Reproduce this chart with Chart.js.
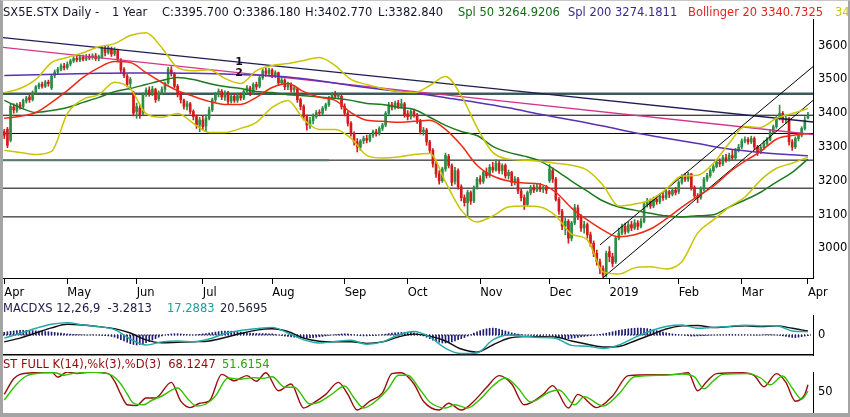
<!DOCTYPE html>
<html>
<head>
<meta charset="utf-8">
<script src="https://cdn.jsdelivr.net/npm/chart.js@4.4.1/dist/chart.umd.min.js"></script>
<style>
  html, body { margin:0; padding:0; background:#fff; }
  #wrap { position:relative; width:850px; height:417px; overflow:hidden; background:#fff; font-family:"DejaVu Sans", sans-serif; font-size:11.5px; }
  #wrap canvas { position:absolute; left:0; }
  .t { position:absolute; white-space:nowrap; line-height:14px; }
  #frame { position:absolute; left:0; top:0; width:850px; height:417px; box-sizing:border-box;
           border-left:3px solid #a4a4a4; border-right:2px solid #a4a4a4; border-bottom:4px solid #a4a4a4; border-top:1px solid #c8c8c8; pointer-events:none; }
</style>
</head>
<body>
<div id="wrap">
  <canvas id="cMain" width="850" height="300" style="top:0px"></canvas>
  <canvas id="cMacd" width="850" height="57" style="top:299px"></canvas>
  <canvas id="cSto" width="850" height="62" style="top:355px"></canvas>

  <div class="t" style="left:3px;top:5px;color:#15152c">SX5E.STX Daily -</div>
  <div class="t" style="left:112px;top:5px;color:#15152c">1 Year</div>
  <div class="t" style="left:162px;top:5px;color:#15152c">C:3395.700</div>
  <div class="t" style="left:233px;top:5px;color:#15152c">O:3386.180</div>
  <div class="t" style="left:305px;top:5px;color:#15152c">H:3402.770</div>
  <div class="t" style="left:378px;top:5px;color:#15152c">L:3382.840</div>
  <div class="t" style="left:458px;top:5px;color:#136b13">Spl 50 3264.9206</div>
  <div class="t" style="left:568px;top:5px;color:#3a2a8c">Spl 200 3274.1811</div>
  <div class="t" style="left:688px;top:5px;color:#e8231c">Bollinger 20 3340.7325</div>
  <div class="t" style="left:835px;top:5px;color:#c9c800">34</div>

  <div class="t" style="left:3px;top:301px;color:#1c1c4a">MACDXS 12,26,9&nbsp; -3.2813</div>
  <div class="t" style="left:167px;top:301px;color:#1a9e9e">17.2883</div>
  <div class="t" style="left:220px;top:301px;color:#1c1c3a">20.5695</div>

  <div class="t" style="left:3px;top:357px;color:#8e0a0a">ST FULL K(14),%k(3),%D(3)&nbsp; 68.1247</div>
  <div class="t" style="left:222px;top:357px;color:#2aa400">51.6154</div>

  <div id="frame"></div>
</div>
<script>
// ---------------- DATA ----------------
const monthIdx = [0,20,42,63,85,108,128,151,173,192,214,234,255];
const monthLbl = ['Apr','May','Jun','Jul','Aug','Sep','Oct','Nov','Dec','2019','Feb','Mar','Apr'];
const priceTicks = [3000,3100,3200,3300,3400,3500,3600];

const opens = [3345,3352,3320,3418,3408,3425,3420,3436,3448,3440,3462,3478,3486,3480,3492,3475,3512,3522,3530,3540,
3535,3546,3555,3562,3558,3566,3560,3568,3565,3570,3562,3566,3590,3580,3592,3576,3585,3558,3530,3510,
3488,3460,3405,3415,3400,3455,3468,3458,3470,3442,3460,3470,3490,3528,3515,3480,3455,3438,3420,3428,
3405,3390,3365,3380,3362,3385,3410,3440,3455,3465,3448,3460,3436,3450,3438,3452,3445,3465,3475,3460,
3485,3480,3505,3525,3518,3528,3512,3520,3490,3498,3478,3485,3470,3472,3440,3420,3390,3365,3378,3390,
3402,3400,3415,3425,3445,3455,3450,3450,3420,3400,3370,3340,3315,3300,3318,3325,3320,3335,3345,3340,
3355,3365,3400,3425,3418,3430,3420,3428,3398,3390,3405,3395,3378,3345,3350,3315,3290,3250,3220,3200,
3235,3272,3245,3198,3230,3182,3150,3135,3165,3140,3180,3205,3198,3225,3215,3240,3232,3252,3230,3245,
3215,3225,3195,3205,3170,3150,3130,3165,3180,3172,3182,3175,3180,3200,3230,3205,3145,3110,3065,3080,
3030,3075,3120,3095,3060,3070,3040,3015,2985,2960,2940,2925,2990,2975,2960,3030,3045,3065,3050,3070,
3060,3075,3065,3080,3130,3140,3125,3145,3138,3155,3150,3168,3160,3172,3168,3195,3210,3205,3220,3180,
3155,3150,3175,3205,3215,3230,3242,3255,3250,3268,3262,3275,3268,3290,3300,3318,3322,3315,3325,3300,
3285,3298,3310,3322,3345,3360,3385,3400,3380,3385,3315,3300,3325,3335,3355,3386.18];
const highs = [3352,3358,3428,3428,3430,3432,3442,3450,3455,3466,3482,3490,3492,3497,3498,3514,3528,3536,3546,3548,
3552,3560,3568,3570,3572,3572,3574,3575,3576,3577,3572,3597,3598,3600,3596,3594,3590,3562,3535,3515,
3506,3465,3430,3425,3460,3475,3478,3480,3474,3466,3478,3492,3536,3538,3520,3485,3462,3442,3436,3432,
3410,3395,3388,3392,3395,3418,3445,3462,3472,3470,3466,3465,3456,3458,3460,3460,3470,3482,3480,3490,
3492,3510,3532,3534,3534,3532,3526,3522,3506,3502,3492,3490,3482,3475,3445,3425,3395,3388,3398,3408,
3410,3420,3430,3450,3462,3465,3460,3455,3428,3405,3375,3345,3325,3322,3332,3335,3340,3350,3352,3360,
3370,3405,3432,3432,3436,3438,3442,3432,3408,3410,3412,3400,3382,3358,3355,3320,3295,3258,3230,3240,
3282,3278,3250,3240,3235,3188,3158,3172,3170,3185,3210,3215,3230,3238,3248,3255,3262,3258,3250,3250,
3232,3228,3212,3210,3175,3158,3170,3186,3188,3190,3192,3185,3186,3248,3238,3210,3150,3115,3090,3085,
3080,3130,3128,3100,3080,3075,3048,3022,2995,2968,2948,2992,3005,2985,3035,3060,3072,3075,3078,3080,
3085,3082,3088,3135,3148,3146,3152,3155,3162,3165,3175,3172,3178,3180,3200,3218,3222,3225,3222,3185,
3162,3182,3210,3222,3236,3248,3262,3265,3275,3278,3282,3290,3296,3308,3324,3330,3328,3332,3330,3305,
3305,3318,3328,3350,3365,3392,3424,3405,3392,3388,3322,3330,3342,3360,3390,3402.77];
const lows = [3325,3298,3315,3400,3402,3412,3415,3430,3432,3436,3458,3472,3474,3476,3480,3470,3505,3515,3525,3528,
3530,3540,3550,3552,3553,3555,3556,3558,3560,3556,3555,3562,3570,3575,3568,3570,3552,3520,3505,3478,
3470,3392,3385,3385,3396,3450,3450,3452,3432,3436,3455,3462,3486,3510,3475,3448,3430,3412,3410,3398,
3380,3355,3345,3350,3348,3380,3405,3432,3448,3440,3438,3428,3430,3432,3432,3438,3440,3458,3452,3455,
3470,3475,3500,3510,3512,3505,3505,3482,3485,3470,3470,3462,3462,3432,3410,3380,3350,3355,3368,3385,
3392,3395,3408,3420,3440,3444,3442,3412,3392,3362,3332,3305,3285,3290,3310,3312,3315,3328,3332,3335,
3348,3360,3395,3410,3412,3414,3415,3388,3380,3382,3388,3370,3338,3335,3305,3282,3240,3210,3190,3195,
3228,3238,3185,3190,3175,3140,3125,3095,3130,3135,3175,3190,3192,3208,3210,3225,3228,3222,3220,3208,
3205,3185,3188,3162,3140,3115,3125,3158,3165,3168,3168,3165,3162,3195,3195,3140,3100,3055,3040,3015,
3022,3070,3085,3050,3045,3030,3005,2975,2950,2925,2908,2915,2960,2945,2955,3025,3040,3042,3045,3052,
3055,3055,3060,3075,3122,3118,3120,3130,3132,3142,3145,3150,3155,3158,3162,3190,3198,3198,3172,3148,
3135,3145,3170,3198,3210,3225,3238,3242,3245,3255,3258,3262,3262,3285,3295,3312,3308,3310,3292,3275,
3280,3292,3305,3318,3340,3355,3380,3372,3370,3305,3290,3295,3318,3330,3350,3382.84];
const closes = [3335,3305,3420,3410,3425,3420,3438,3445,3440,3462,3478,3485,3480,3492,3488,3510,3522,3530,3540,3535,
3545,3555,3562,3558,3566,3560,3568,3564,3570,3562,3568,3592,3580,3594,3575,3588,3560,3528,3512,3485,
3500,3400,3420,3395,3455,3468,3458,3472,3440,3460,3470,3488,3530,3518,3480,3455,3440,3420,3428,3405,
3390,3365,3380,3360,3385,3410,3440,3455,3465,3448,3460,3435,3450,3438,3452,3445,3465,3475,3460,3485,
3478,3505,3525,3518,3528,3512,3520,3490,3498,3478,3485,3470,3475,3440,3420,3390,3365,3378,3390,3402,
3400,3415,3425,3445,3455,3450,3452,3420,3400,3370,3340,3315,3300,3318,3325,3320,3335,3345,3340,3355,
3365,3400,3425,3418,3430,3420,3428,3395,3390,3405,3395,3380,3345,3350,3315,3290,3250,3220,3200,3235,
3275,3245,3195,3230,3182,3150,3135,3165,3140,3180,3205,3198,3225,3215,3240,3232,3252,3230,3245,3215,
3225,3195,3205,3170,3150,3128,3165,3180,3172,3182,3175,3180,3172,3235,3205,3145,3110,3065,3080,3030,
3075,3120,3095,3060,3070,3040,3015,2985,2960,2940,2920,2985,2975,2955,3030,3045,3065,3050,3070,3060,
3075,3065,3080,3130,3140,3125,3145,3138,3155,3150,3168,3160,3172,3165,3195,3210,3205,3220,3180,3155,
3150,3175,3205,3215,3230,3242,3255,3250,3268,3262,3275,3268,3290,3300,3318,3322,3315,3325,3300,3285,
3298,3310,3322,3345,3360,3385,3400,3380,3385,3315,3300,3325,3335,3355,3380,3395.70];

// indicator lines read every 5 trading days
const bandIdx = [0,5,10,15,20,25,30,35,40,45,50,55,60,65,70,75,80,85,90,95,100,105,110,115,120,125,
130,135,140,145,150,155,160,165,170,175,180,185,190,195,200,205,210,215,220,225,230,235,240,245,250,255];
const bbUpper = [3461,3473,3500,3550,3565,3579,3597,3606,3630,3638,3594,3535,3526,3529,3503,3488,3526,3541,3547,3556,
3565,3541,3500,3485,3473,3464,3461,3482,3509,3452,3358,3284,3264,3261,3258,3252,3246,3231,3187,3125,
3131,3143,3175,3214,3216,3252,3311,3361,3358,3385,3399,3414];
const bbMid = [3385,3391,3402,3432,3467,3506,3535,3553,3550,3520,3491,3467,3450,3435,3426,3426,3447,3476,3488,3464,
3447,3438,3402,3379,3376,3373,3376,3379,3352,3305,3246,3214,3199,3193,3190,3166,3119,3084,3054,3034,
3040,3057,3087,3122,3154,3184,3225,3258,3287,3323,3334,3340];
const bbLower = [3290,3284,3278,3287,3399,3441,3455,3492,3473,3399,3388,3399,3370,3343,3343,3355,3373,3417,3438,3382,
3352,3352,3326,3275,3267,3270,3278,3281,3196,3113,3078,3096,3122,3125,3122,3096,3042,3025,2930,2924,
2942,2945,2939,2960,3045,3084,3122,3152,3202,3237,3252,3270];
const sma50 = [3438,3417,3402,3408,3417,3432,3447,3464,3473,3485,3497,3506,3500,3488,3479,3473,3464,3461,3455,3452,
3448,3444,3438,3429,3426,3417,3411,3388,3364,3346,3334,3302,3284,3273,3258,3231,3199,3169,3140,3122,
3113,3104,3096,3093,3096,3099,3122,3143,3166,3196,3225,3264];
const sma200Idx = [0,10,20,30,40,50,60,70,80,90,100,110,120,130,140,150,160,170,180,190,200,210,220,230,240,250,255];
const sma200 = [3512,3514,3516,3518,3519,3519,3518,3516,3513,3507,3496,3482,3470,3460,3446,3432,3416,3397,3380,3362,
3342,3326,3310,3294,3284,3277,3274];

// horizontal levels and trend lines
const hLevels = [3458,3394,3340,3261,3178,3093];
const greyLevel = 3261, greyEndIdx = 103;
const line1X = [-0.4,256.6], line1Y = [3624,3374];
const line2X = [-0.4,256.6], line2Y = [3595,3337];
const chanUpX = [189,256.6], chanUpY = [3010,3538];
const chanLoX = [190,256.6], chanLoY = [2913,3438];
const lineTags = ['1','2'];
const lineTagIdx = [74.5,74.5];

// MACD
const macdLine = [-17,9,37,59,68,55,46,30,-22,-55,-38,-33,-37,-22,8,25,35,42,11,-27,
-44,-36,-29,-51,-38,0,19,-11,-73,-102,-99,-27,0,-8,-14,-19,-57,-62,-74,-55,
-14,22,47,55,37,42,47,54,50,51,22,18];
const macdSignal = [-37,-17,11,39,59,55,46,35,11,-27,-43,-40,-37,-33,-14,8,27,34,19,-17,
-34,-37,-37,-46,-38,-11,5,-6,-33,-77,-94,-55,-18,-9,-9,-11,-33,-51,-66,-63,
-33,0,33,50,52,41,46,51,46,50,37,22];
const macdHist = [15,18,20,22,24,25,26,26,25,24,23,22,20,19,18,16,14,12,10,8,
6,5,4,3,2,1,0,0,1,0,-1,-2,-3,-5,-8,-12,-18,-25,-32,-40,
-48,-52,-55,-52,-48,-42,-36,-28,-20,-12,-5,0,4,6,7,7,6,4,2,1,
0,2,4,6,8,10,13,16,19,21,22,22,21,20,18,16,14,12,10,9,
8,8,8,8,7,6,3,0,-3,-6,-8,-10,-12,-14,-15,-16,-16,-15,-14,-12,
-10,-8,-5,-2,0,2,4,6,7,6,4,1,-2,-4,-5,-5,-4,-3,-2,0,
2,5,8,10,12,13,14,15,15,14,12,8,2,-5,-12,-20,-28,-35,-40,-44,
-44,-42,-38,-32,-26,-20,-14,-6,2,10,18,24,30,34,37,38,36,32,27,22,
17,12,8,5,2,0,-1,-2,-3,-3,-3,-2,-1,-3,-6,-10,-14,-18,-20,-20,
-18,-16,-13,-10,-8,-6,-4,-2,0,3,6,10,14,18,22,25,28,31,34,36,
37,38,38,37,35,32,28,24,20,16,12,9,6,4,2,0,-2,-4,-6,-6,
-5,-4,-3,-2,-1,0,0,1,1,1,2,2,2,1,1,1,0,0,-1,-1,
0,1,2,2,1,0,-2,-5,-8,-11,-13,-14,-12,-9,-6,-3];

// Full stochastic
const stoKIdx = [0,3,5,9,15,17,20,23,27,33,35,37,39,42,45,48,53,56,59,62,65,69,73,77,80,83,87,91,95,98,
102,106,109,112,116,120,123,126,130,133,138,141,145,149,153,157,161,165,171,174,179,182,188,193,198,
207,213,217,220,223,226,234,238,241,245,248,251,254,255];
const stoK = [44,83,94,98,100,87,100,96,100,96,77,44,18,16,35,35,74,27,11,22,27,94,78,91,77,98,53,70,10,22,
44,74,44,5,27,48,96,98,70,27,5,22,5,27,61,91,70,18,44,66,10,44,11,40,91,
93,94,98,53,77,96,98,91,63,96,74,27,44,68];
const stoDIdx = [0,4,7,11,16,19,22,25,29,34,37,39,41,44,47,50,55,58,61,64,67,71,75,79,82,85,89,92,97,100,
104,108,111,114,118,122,125,128,132,135,140,143,147,151,155,159,163,167,173,176,181,184,190,195,200,
209,215,219,222,225,228,236,240,243,247,250,253,255];
const stoD = [30,70,90,97,98,92,97,98,99,92,70,45,22,18,30,40,60,35,15,20,40,85,82,86,84,88,62,62,20,25,
45,65,35,10,28,60,92,92,55,25,10,18,10,32,65,85,60,25,50,55,18,38,15,45,88,
92,95,88,58,78,94,96,85,68,90,60,32,52];

// ---------------- CHARTS ----------------
const X_MIN = -0.4, X_MAX = 256.6;
const FONT = {family:'DejaVu Sans', size:11.5};
const UP = '#2e8c45', DOWN = '#d41b1b';
const pts = (xs, ys) => xs.map((x, i) => ({x: x, y: ys[i]}));
const seg = (x0, x1, v) => [{x:x0, y:v}, {x:x1, y:v}];
const candleColor = ctx => closes[ctx.dataIndex] >= opens[ctx.dataIndex] ? UP : DOWN;

function lineDs(data, color, width, order, extra) {
  return Object.assign({type:'line', data:data, borderColor:color, borderWidth:width, pointRadius:0,
    fill:false, order:order, cubicInterpolationMode:'monotone'}, extra || {});
}
const rightAxis = (min, max, tickList) => ({
  type:'linear', position:'right', min:min, max:max,
  afterBuildTicks: s => { s.ticks = tickList.map(v => ({value:v})); },
  afterFit: s => { s.width = 37; s.paddingTop = 0; s.paddingBottom = 0; },
  ticks:{padding:5, color:'#000', font:FONT, callback: v => String(v)},
  grid:{display:false, drawTicks:false},
  border:{display:true, color:'#000', width:1}
});
const bottomAxis = (extra) => Object.assign({type:'linear', min:X_MIN, max:X_MAX, offset:false}, extra);
const baseOpts = {responsive:false, animation:false, events:[], devicePixelRatio:1,
  plugins:{legend:{display:false}, tooltip:{enabled:false}}};

const hStyles = [{c:'#3c5a5a', w:2.5},{c:'#000', w:1},{c:'#000', w:1},{c:'#000', w:1},{c:'#000', w:1},{c:'#000', w:1}];

const tagPlugin = {
  id:'tags',
  afterDatasetsDraw(chart) {
    const {ctx, scales:{x, y}} = chart;
    const lines = [[line1X, line1Y], [line2X, line2Y]];
    ctx.save();
    ctx.font = 'bold 11px DejaVu Sans';
    ctx.fillStyle = '#111';
    ctx.textAlign = 'center';
    ctx.textBaseline = 'middle';
    lineTags.forEach((tag, k) => {
      const [lx, ly] = lines[k];
      const at = lineTagIdx[k];
      const v = ly[0] + (ly[1] - ly[0]) * (at - lx[0]) / (lx[1] - lx[0]);
      ctx.fillText(tag, x.getPixelForValue(at), y.getPixelForValue(v));
    });
    ctx.restore();
  }
};

const mainSets = [];
hLevels.forEach((v, k) => mainSets.push(lineDs(seg(X_MIN, X_MAX, v), hStyles[k].c, hStyles[k].w, 40, {cubicInterpolationMode:'default'})));
mainSets.push(lineDs(seg(X_MIN, greyEndIdx, greyLevel), '#5d7878', 2, 39, {cubicInterpolationMode:'default'}));
mainSets.push({type:'bar', data: closes.map((c, i) => ({x:i, y:[lows[i], highs[i]]})), backgroundColor:candleColor,
  barThickness:1, grouped:false, order:30, borderWidth:0});
mainSets.push({type:'bar', data: closes.map((c, i) => ({x:i, y:[opens[i], c]})), backgroundColor:candleColor,
  barThickness:2, minBarLength:1, grouped:false, order:29, borderWidth:0});
mainSets.push(lineDs(pts(line1X, line1Y), '#1d1d55', 1.3, 12));
mainSets.push(lineDs(pts(line2X, line2Y), '#d6348c', 1.3, 11));
mainSets.push(lineDs(pts(chanUpX, chanUpY), '#000', 1, 10));
mainSets.push(lineDs(pts(chanLoX, chanLoY), '#000', 1, 10));
mainSets.push(lineDs(pts(sma200Idx, sma200), '#5a30b4', 1.5, 6));
mainSets.push(lineDs(pts(bandIdx, sma50), '#1f7a1f', 1.5, 5));
mainSets.push(lineDs(pts(bandIdx, bbUpper), '#c9c500', 1.5, 4));
mainSets.push(lineDs(pts(bandIdx, bbLower), '#c9c500', 1.5, 4));
mainSets.push(lineDs(pts(bandIdx, bbMid), '#ee2a17', 1.5, 3));

new Chart(document.getElementById('cMain'), {
  type:'line',
  data:{datasets:mainSets},
  options:Object.assign({}, baseOpts, {
    layout:{padding:{left:3, top:19, right:0, bottom:0}},
    scales:{
      x:bottomAxis({
        afterBuildTicks: s => { s.ticks = monthIdx.map(v => ({value:v})); },
        afterFit: s => { s.height = 22; s.paddingLeft = 0; s.paddingRight = 0; },
        ticks:{autoSkip:false, maxRotation:0, minRotation:0, align:'start', padding:2, color:'#000', font:FONT,
          callback:(v, i) => monthLbl[i]},
        grid:{display:true, offset:false, drawOnChartArea:false, drawTicks:true, tickLength:6, color:'#000'},
        border:{display:true, color:'#000', width:1}}),
      y:rightAxis(2912, 3679, priceTicks)
    }
  }),
  plugins:[tagPlugin]
});

new Chart(document.getElementById('cMacd'), {
  type:'line',
  data:{datasets:[
    lineDs(seg(X_MIN, X_MAX, 0), '#000', 1, 20, {borderDash:[1,2], cubicInterpolationMode:'default'}),
    {type:'bar', data: macdHist.map((h, i) => ({x:i, y:h})), backgroundColor:'#1e1e78', barThickness:1, grouped:false, order:15, borderWidth:0},
    lineDs(pts(bandIdx, macdSignal), '#111', 1.4, 3),
    lineDs(pts(bandIdx, macdLine), '#1fa9a9', 1.4, 2)
  ]},
  options:Object.assign({}, baseOpts, {
    layout:{padding:{left:3, top:16, right:0, bottom:0}},
    scales:{
      x:bottomAxis({
        afterFit: s => { s.height = 1; s.paddingLeft = 0; s.paddingRight = 0; },
        ticks:{display:false}, grid:{display:false, offset:false, drawTicks:false},
        border:{display:true, color:'#000', width:1.5}}),
      y:rightAxis(-110, 110, [0])
    }
  })
});

new Chart(document.getElementById('cSto'), {
  type:'line',
  data:{datasets:[
    lineDs(pts(stoKIdx, stoK), '#990c0c', 1.4, 3),
    lineDs(pts(stoDIdx, stoD), '#33c000', 1.4, 2)
  ]},
  options:Object.assign({}, baseOpts, {
    layout:{padding:{left:3, top:17, right:0, bottom:5}},
    scales:{
      x:bottomAxis({display:false}),
      y:rightAxis(0, 100, [50])
    }
  })
});
</script>
</body>
</html>
